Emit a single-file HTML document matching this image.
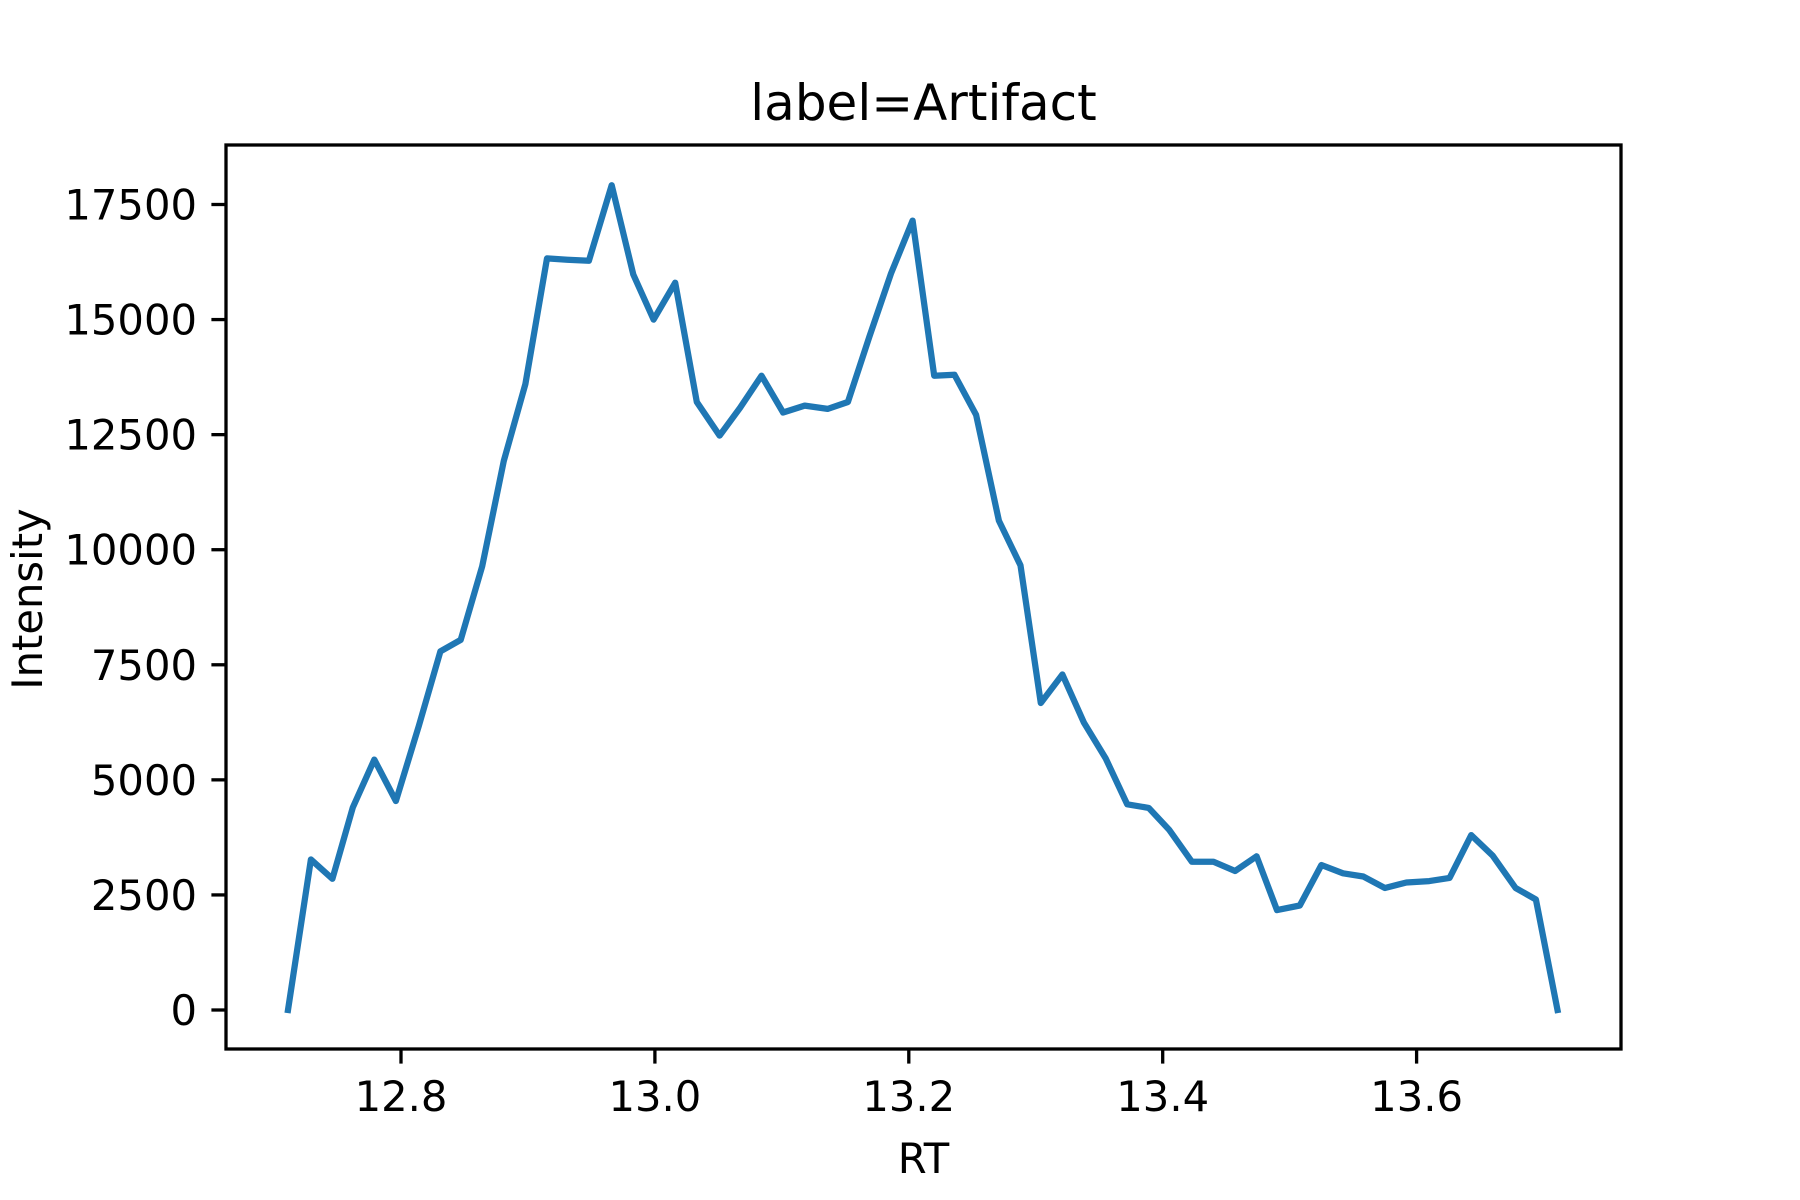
<!DOCTYPE html>
<html><head><meta charset="utf-8"><style>
html,body{margin:0;padding:0;background:#fff;}
svg{display:block;font-family:"DejaVu Sans","Liberation Sans",sans-serif;}
</style></head><body>
<svg id="chart" width="1800" height="1200" viewBox="0 0 1800 1200" xmlns="http://www.w3.org/2000/svg">
<rect width="1800" height="1200" fill="#fff"/>
<text x="923.5" y="120" font-size="50" text-anchor="middle">label=Artifact</text>
<text x="923.5" y="1173" font-size="41.7" text-anchor="middle">RT</text>
<text transform="translate(42,599) rotate(-90)" font-size="41.7" text-anchor="middle">Intensity</text>
<g id="xticks"></g>
<g id="yticks"></g>
<path id="line" fill="none" stroke="#1f77b4" stroke-width="6.25" stroke-linejoin="round" stroke-linecap="square"/>
<rect x="226" y="145" width="1395" height="904" fill="none" stroke="#000" stroke-width="3.3"/>
</svg>
<script>
const rt = [12.711,12.729,12.746,12.762,12.779,12.796,12.814,12.831,12.847,12.864,12.881,12.898,12.915,12.931,12.948,12.966,12.983,12.999,13.016,13.033,13.051,13.067,13.084,13.101,13.118,13.136,13.152,13.169,13.186,13.203,13.220,13.236,13.253,13.271,13.288,13.304,13.321,13.338,13.355,13.372,13.389,13.405,13.423,13.440,13.457,13.474,13.490,13.508,13.525,13.542,13.558,13.575,13.592,13.610,13.626,13.643,13.660,13.678,13.694,13.711];
const intensity = [0,3270,2850,4400,5440,4540,6170,7790,8040,9640,11930,13600,16330,16300,16280,17920,15980,15000,15800,13210,12480,13080,13780,12980,13130,13060,13210,14630,16000,17150,13780,13800,12930,10630,9660,6670,7290,6240,5470,4470,4390,3920,3220,3220,3020,3340,2170,2270,3150,2970,2900,2650,2770,2800,2870,3800,3350,2650,2400,0];
const xTicks = [12.8,13.0,13.2,13.4,13.6];
const xTickLabels = ["12.8","13.0","13.2","13.4","13.6"];
const yTicks = [0,2500,5000,7500,10000,12500,15000,17500];
const yTickLabels = ["0","2500","5000","7500","10000","12500","15000","17500"];

const NS="http://www.w3.org/2000/svg";
function xs(v){return 401+(v-12.8)*(1416.6-401)/0.8;}
function ys(v){return 1010-v*(1010-204.5)/17500;}
const xg=document.getElementById('xticks'), yg=document.getElementById('yticks');
xTicks.forEach((t,i)=>{
  const l=document.createElementNS(NS,'line');
  l.setAttribute('x1',xs(t));l.setAttribute('x2',xs(t));l.setAttribute('y1',1049);l.setAttribute('y2',1063.6);
  l.setAttribute('stroke','#000');l.setAttribute('stroke-width','3.3');
  
  
  xg.appendChild(l);
  const tx=document.createElementNS(NS,'text');
  tx.setAttribute('x',xs(t));tx.setAttribute('y',1111);tx.setAttribute('font-size','41.7');tx.setAttribute('text-anchor','middle');
  tx.textContent=xTickLabels[i];
  
  
  xg.appendChild(tx);
});
yTicks.forEach((t,i)=>{
  const l=document.createElementNS(NS,'line');
  l.setAttribute('x1',211.4);l.setAttribute('x2',226);l.setAttribute('y1',ys(t));l.setAttribute('y2',ys(t));
  l.setAttribute('stroke','#000');l.setAttribute('stroke-width','3.3');
  
  
  yg.appendChild(l);
  const tx=document.createElementNS(NS,'text');
  tx.setAttribute('x',197);tx.setAttribute('y',ys(t)+15);tx.setAttribute('font-size','41.7');tx.setAttribute('text-anchor','end');
  tx.textContent=yTickLabels[i];
  
  
  yg.appendChild(tx);
});
document.getElementById('line').setAttribute('d', rt.map((r,i)=>(i?'L':'M')+xs(r).toFixed(1)+' '+ys(intensity[i]).toFixed(1)).join(' '));
</script>
</body></html>
